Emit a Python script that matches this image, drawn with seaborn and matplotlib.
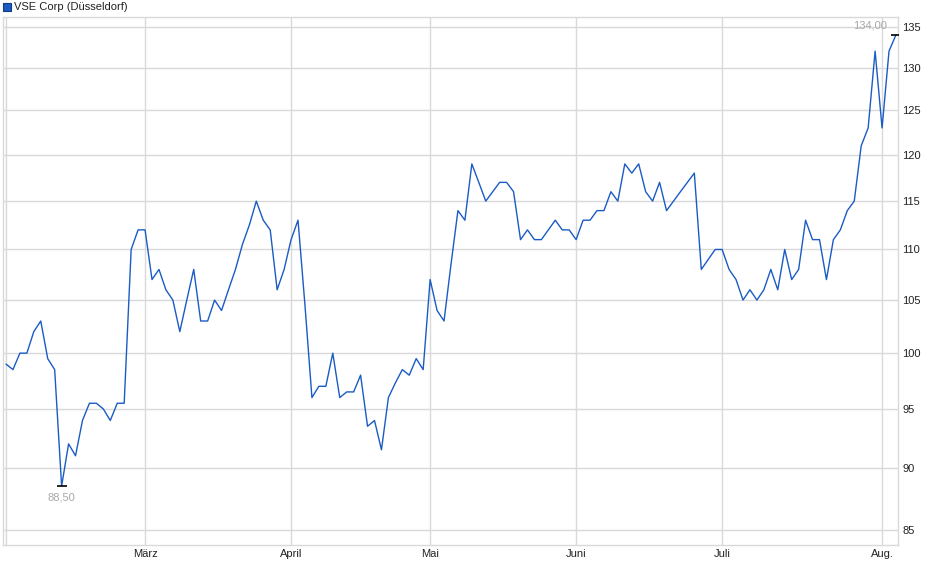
import numpy as np
import pandas as pd
import matplotlib
matplotlib.use("Agg")
import matplotlib.pyplot as plt
from matplotlib.patches import Rectangle
import seaborn as sns

# Kursdaten (Handelstage Düsseldorf, Feb - Aug 2025)
start_date = "2025-02-03"
end_date = "2025-08-05"
holidays = ["2025-04-18", "2025-04-21", "2025-05-01"]

feb = [99, 98.5, 100, 100, 102, 103, 99.5, 98.5, 88.5, 92, 91, 94, 95.5, 95.5, 95, 94, 95.5, 95.5, 110, 112]
mar = [112, 107, 108, 106, 105, 102, 105, 108, 103, 103, 105, 104, 106, 108, 110.5, 112.5, 115, 113, 112, 106, 108]
apr = [111, 113, 104.5, 96, 97, 97, 100, 96, 96.5, 96.5, 98, 93.5, 94, 91.5, 96, 97.3, 98.5, 98, 99.5, 98.5]
mai = [107, 104, 103, 108.5, 114, 113, 119, 117, 115, 116, 117, 117, 116, 111, 112, 111, 111, 112, 113, 112, 112]
jun = [111, 113, 113, 114, 114, 116, 115, 119, 118, 119, 116, 115, 117, 114, 115, 116, 117, 118, 108, 109, 110]
jul = [110, 108, 107, 105, 106, 105, 106, 108, 106, 110, 107, 108, 113, 111, 111, 107, 111, 112, 114, 115, 121, 123, 132]
aug = [123, 132, 134]

month_names = {2: "Feb.", 3: "März", 4: "April", 5: "Mai", 6: "Juni", 7: "Juli", 8: "Aug."}
y_ticks = [85, 90, 95, 100, 105, 110, 115, 120, 125, 130, 135]
title = "VSE Corp (Düsseldorf)"

dates = pd.bdate_range(start_date, end_date, freq="C", holidays=holidays)
kurs = feb + mar + apr + mai + jun + jul + aug
df = pd.DataFrame({"datum": dates, "kurs": kurs})
df["idx"] = np.arange(len(df))

# erster Handelstag je Monat
first = df.groupby(df["datum"].dt.month)["idx"].min()

sns.set_style("white")
plt.rcParams["font.family"] = ["Liberation Sans", "DejaVu Sans"]

fig = plt.figure(figsize=(9.4, 5.79), dpi=100)
ax = fig.add_axes([0.0032, 0.0582, 0.9524, 0.9133])

grid_col = "#d9d9d9"
for v in y_ticks:
    ax.axhline(v, color=grid_col, lw=1, zorder=0)
for m, i in first.items():
    ax.axvline(i, color=grid_col, lw=1, zorder=0)

sns.lineplot(data=df, x="idx", y="kurs", ax=ax, color="#1a5bc4", lw=1.0, zorder=3)

ax.set_yscale("log")
ax.set_ylim(83.81, 136.27)
ax.set_xlim(-0.43, len(df) - 1 + 0.33)

ax.yaxis.tick_right()
ax.set_yticks(y_ticks)
ax.set_yticklabels([str(v) for v in y_ticks])
ax.yaxis.set_minor_locator(matplotlib.ticker.NullLocator())
ax.set_xticks([i for m, i in first.items() if m != 2])
ax.set_xticklabels([month_names[m] for m, i in first.items() if m != 2])
ax.tick_params(axis="both", length=0, labelsize=8, colors="#222222")
ax.tick_params(axis="y", pad=3)
ax.tick_params(axis="x", pad=3)
ax.set_xlabel("")
ax.set_ylabel("")
for s in ax.spines.values():
    s.set_color(grid_col)
    s.set_linewidth(1)

# Min / Max Markierung
imin = int(df["kurs"].idxmin())
imax = int(df["kurs"].idxmax())
vmin = df["kurs"][imin]
vmax = df["kurs"][imax]
ax.plot([imin], [vmin], marker="_", ms=7, mew=1.2, color="black", zorder=4)
ax.plot([imax], [vmax], marker="_", ms=7, mew=1.2, color="black", zorder=4)
ax.annotate(f"{vmin:.2f}".replace(".", ","), (imin, vmin), xytext=(0, -11),
            textcoords="offset pixels", ha="center", va="center", fontsize=8, color="#a8a8a8")
ax.annotate(f"{vmax:.2f}".replace(".", ","), (imax, vmax), xytext=(-9, 9),
            textcoords="offset pixels", ha="right", va="center", fontsize=8, color="#a8a8a8")

# Legende oben links
fig.patches.append(Rectangle((3 / 940, 1 - 10.5 / 579), 7.5 / 940, 7.5 / 579, transform=fig.transFigure,
                             facecolor="#1a5bc4", edgecolor="#123c80", lw=0.8))
fig.text(14 / 940, 1 - 7 / 579, title, ha="left", va="center", fontsize=8, color="#222222")

fig.savefig("out.png", dpi=100)
